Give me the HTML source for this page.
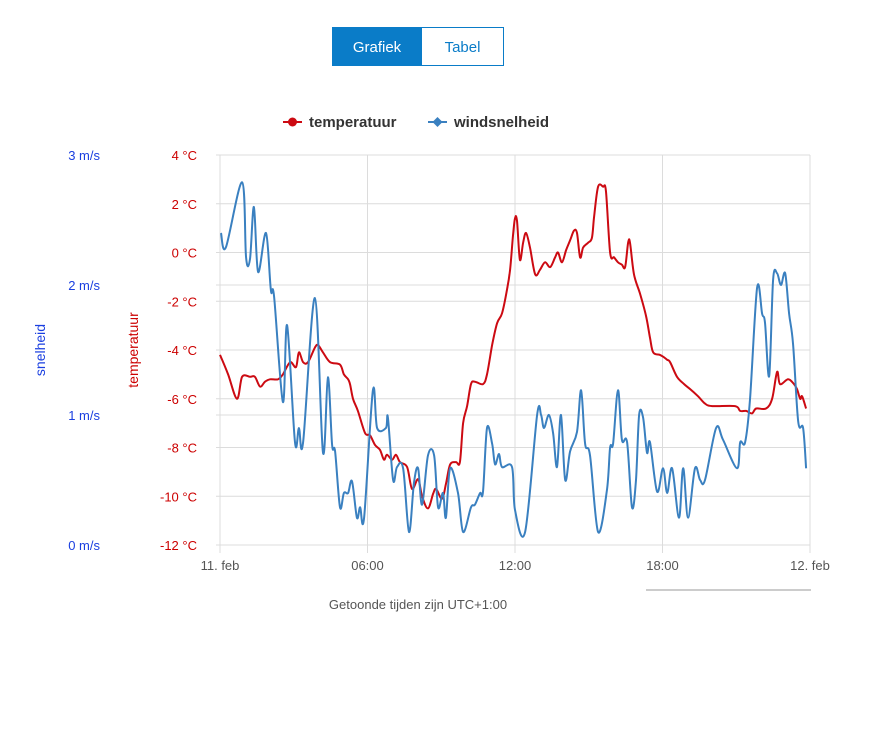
<!DOCTYPE html>
<html><head><meta charset="utf-8">
<style>
body{margin:0;background:#fff;font-family:"Liberation Sans","DejaVu Sans",sans-serif;}
#wrap{position:relative;width:872px;height:733px;overflow:hidden;}
.btn{position:absolute;top:27px;height:39px;line-height:41px;text-align:center;font-size:15px;box-sizing:border-box;}
</style></head>
<body>
<div id="wrap">
<div class="btn" style="left:332px;width:90px;background:#0a7cc8;color:#fff;">Grafiek</div>
<div class="btn" style="left:421px;width:83px;border:1px solid #0a7cc8;color:#0a7cc8;background:#fff;line-height:39px;">Tabel</div>
<svg id="chart" width="872" height="733" style="position:absolute;left:0;top:0;"></svg>
</div>
<script>
const tempHours=[0,0.33,0.69,0.9,1.22,1.42,1.63,1.83,2.03,2.36,2.56,2.85,3.09,3.21,3.38,3.58,3.86,3.99,4.19,4.48,4.88,5.04,5.21,5.29,5.41,5.61,5.9,6.1,6.31,6.51,6.67,6.79,7.0,7.16,7.32,7.61,7.81,8.06,8.22,8.46,8.67,8.79,9.03,9.19,9.36,9.6,9.76,9.89,10.05,10.21,10.37,10.7,10.86,11.07,11.27,11.47,11.68,11.8,11.92,12.0,12.08,12.2,12.33,12.45,12.61,12.82,13.02,13.22,13.43,13.63,13.75,13.91,14.08,14.24,14.4,14.52,14.65,14.77,14.97,15.13,15.22,15.38,15.58,15.7,15.87,16.03,16.19,16.35,16.48,16.6,16.68,16.84,17.09,17.33,17.49,17.62,17.9,18.06,18.19,18.31,18.59,18.88,19.12,19.45,19.73,20.02,20.95,21.16,21.4,21.64,21.81,22.21,22.46,22.66,22.78,23.11,23.35,23.47,23.6,23.68,23.84];
const tempValues=[-4.2,-5.0,-6.0,-5.1,-5.1,-5.1,-5.5,-5.3,-5.2,-5.2,-5.0,-4.5,-4.7,-4.1,-4.5,-4.5,-3.9,-3.8,-4.1,-4.5,-4.6,-5.0,-5.2,-5.4,-6.0,-6.5,-7.4,-7.5,-7.9,-8.1,-8.5,-8.3,-8.5,-8.3,-8.6,-8.8,-9.7,-9.3,-10.0,-10.5,-9.9,-9.7,-10.1,-9.5,-8.7,-8.6,-8.6,-7.0,-6.3,-5.4,-5.3,-5.4,-5.0,-3.8,-2.9,-2.5,-1.5,-0.7,0.7,1.4,1.3,-0.3,0.4,0.8,0.2,-0.9,-0.7,-0.4,-0.6,-0.2,0,-0.4,0.1,0.5,0.9,0.8,-0.2,0.2,0.4,0.6,1.5,2.7,2.7,2.5,0.0,-0.2,-0.4,-0.5,-0.6,0.4,0.4,-0.9,-1.7,-2.6,-3.5,-4.1,-4.2,-4.3,-4.4,-4.5,-5.1,-5.4,-5.6,-5.9,-6.2,-6.3,-6.3,-6.5,-6.5,-6.6,-6.4,-6.4,-6.0,-4.9,-5.4,-5.2,-5.4,-5.6,-6.0,-5.9,-6.4];
const windHours=[0.04,0.24,0.9,1.06,1.22,1.38,1.55,1.87,2.07,2.2,2.56,2.73,3.05,3.21,3.38,3.86,4.19,4.39,4.56,4.68,4.88,5.04,5.21,5.37,5.57,5.7,5.86,6.22,6.39,6.75,6.83,7.04,7.2,7.45,7.69,7.89,8.06,8.22,8.46,8.71,8.87,9.07,9.19,9.36,9.68,9.89,10.21,10.37,10.58,10.7,10.86,11.07,11.19,11.35,11.47,11.88,12.0,12.41,12.9,13.06,13.18,13.38,13.55,13.71,13.87,14.04,14.24,14.52,14.69,14.85,15.05,15.38,15.74,15.87,15.99,16.19,16.35,16.56,16.76,16.92,17.05,17.21,17.37,17.49,17.78,18.02,18.19,18.39,18.67,18.84,19.04,19.32,19.53,19.73,20.18,20.46,21.03,21.16,21.36,21.56,21.85,22.05,22.17,22.34,22.5,22.66,22.82,22.99,23.15,23.31,23.52,23.72,23.84];
const windValues=[2.40,2.29,2.79,2.21,2.20,2.60,2.10,2.40,1.96,1.91,1.10,1.69,0.79,0.90,0.79,1.90,0.71,1.29,0.77,0.72,0.29,0.40,0.40,0.49,0.21,0.29,0.21,1.19,0.90,0.90,0.98,0.50,0.60,0.59,0.10,0.48,0.59,0.31,0.69,0.69,0.29,0.40,0.21,0.59,0.40,0.10,0.29,0.31,0.40,0.41,0.90,0.78,0.62,0.70,0.60,0.60,0.27,0.10,1.00,1.00,0.90,1.00,0.86,0.60,1.00,0.50,0.72,0.87,1.19,0.78,0.69,0.10,0.42,0.75,0.78,1.19,0.81,0.79,0.29,0.50,1.00,0.98,0.71,0.79,0.41,0.59,0.40,0.59,0.21,0.59,0.21,0.59,0.50,0.50,0.90,0.81,0.59,0.79,0.79,1.12,1.98,1.78,1.71,1.30,2.04,2.09,2.00,2.09,1.78,1.55,0.95,0.90,0.59];
const tempTicks=[4,2,0,-2,-4,-6,-8,-10,-12];
const windTicks=[3,2,1,0];
const xTickHours=[0,6,12,18,24];
const xTickLabels=["11. feb","06:00","12:00","18:00","12. feb"];

const L=220,R=810,T=155,B=545;
const xS=h=>L+(R-L)*h/24;
const tS=v=>B-(B-T)*(v+12)/16;
const wS=v=>B-(B-T)*v/3;
const svg=document.getElementById('chart');
const NS='http://www.w3.org/2000/svg';
function mk(tag,attrs,parent){const e=document.createElementNS(NS,tag);for(const k in attrs)e.setAttribute(k,attrs[k]);(parent||svg).appendChild(e);return e;}
function txt(s,attrs){const e=mk('text',attrs);e.textContent=s;return e;}

tempTicks.forEach(v=>{
  const g=mk('line',{x1:216,x2:R,y1:tS(v),y2:tS(v),stroke:'#dcdcdc','stroke-width':1});
  
  
  const t=txt(v+' °C',{x:197,y:tS(v)+5,'text-anchor':'end','font-size':13,fill:'#cc0000'});
  
  
});
windTicks.forEach(v=>{
  const g=mk('line',{x1:216,x2:R,y1:wS(v),y2:wS(v),stroke:'#dcdcdc','stroke-width':1});
  
  
  const t=txt(v+' m/s',{x:100,y:wS(v)+5,'text-anchor':'end','font-size':13,fill:'#1a3fe0'});
  
  
});
xTickHours.forEach((h,i)=>{
  const g=mk('line',{x1:xS(h),x2:xS(h),y1:T,y2:B+8,stroke:'#dcdcdc','stroke-width':1});
  
  
  const t=txt(xTickLabels[i],{x:xS(h),y:570,'text-anchor':'middle','font-size':13,fill:'#555'});
  
  
});
const a1=txt('snelheid',{x:0,y:0,'text-anchor':'middle','font-size':14,fill:'#1a3fe0',transform:'translate(45,350) rotate(-90)'});


const a2=txt('temperatuur',{x:0,y:0,'text-anchor':'middle','font-size':14,fill:'#cc0000',transform:'translate(138,350) rotate(-90)'});



function pathFrom(hs,vs,ys){
  const p=hs.map((h,i)=>[xS(h),ys(vs[i])]);
  let d='M'+p[0][0].toFixed(1)+','+p[0][1].toFixed(1);
  for(let i=0;i<p.length-1;i++){
    const p0=p[i-1]||p[i],p1=p[i],p2=p[i+1],p3=p[i+2]||p2;
    const k=1/6;
    const c1=[p1[0]+(p2[0]-p0[0])*k,p1[1]+(p2[1]-p0[1])*k];
    const c2=[p2[0]-(p3[0]-p1[0])*k,p2[1]-(p3[1]-p1[1])*k];
    d+=`C${c1[0].toFixed(1)},${c1[1].toFixed(1)} ${c2[0].toFixed(1)},${c2[1].toFixed(1)} ${p2[0].toFixed(1)},${p2[1].toFixed(1)}`;
  }
  return d;
}
const tl=mk('path',{d:pathFrom(tempHours,tempValues,tS),fill:'none',stroke:'#cc0a12','stroke-width':2,'stroke-linejoin':'round'});


const wl=mk('path',{d:pathFrom(windHours,windValues,wS),fill:'none',stroke:'#3a80c0','stroke-width':2,'stroke-linejoin':'round'});



const lg1=mk('g',{});


mk('line',{x1:283,x2:302,y1:122,y2:122,stroke:'#cc0a12','stroke-width':2},lg1);
mk('circle',{cx:292.5,cy:122,r:4.5,fill:'#cc0a12'},lg1);
const t1=mk('text',{x:309,y:127,'font-size':15,'font-weight':'bold',fill:'#333'},lg1);t1.textContent='temperatuur';
const lg2=mk('g',{});


mk('line',{x1:428,x2:447,y1:122,y2:122,stroke:'#3a80c0','stroke-width':2},lg2);
mk('path',{d:'M437.5,117 L442.5,122 L437.5,127 L432.5,122Z',fill:'#3a80c0'},lg2);
const t2=mk('text',{x:454,y:127,'font-size':15,'font-weight':'bold',fill:'#333'},lg2);t2.textContent='windsnelheid';

const cap=txt('Getoonde tijden zijn UTC+1:00',{x:418,y:609,'text-anchor':'middle','font-size':13,fill:'#555'});


const sl=mk('line',{x1:646,x2:811,y1:590,y2:590,stroke:'#999','stroke-width':1});


</script>
</body></html>
